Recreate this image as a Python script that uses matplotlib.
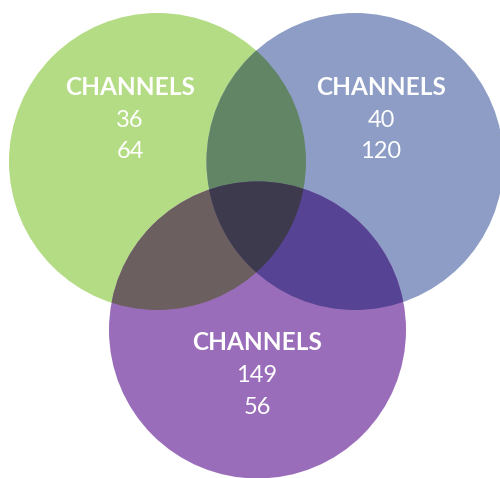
import matplotlib
matplotlib.use('Agg')
import numpy as np
import matplotlib.pyplot as plt
from matplotlib.patches import Circle, Polygon

# set labels and counts
set_names = ['CHANNELS', 'CHANNELS', 'CHANNELS']
first_counts = [36, 40, 149]
second_counts = [64, 120, 56]

# layout of the three circles (pixel space)
centers = [(157.5, 161.5), (355, 161.5), (257.5, 330)]
radius = 148.5
label_pos = [(130, 87), (381, 87), (257, 343)]

# region colours
colors = ['#b4dc84', '#8e9dc6', '#9a6dba']
pair_colors = {(0, 1): '#628665', (0, 2): '#6b5f5f', (1, 2): '#574393'}
center_color = '#3d3a4d'


def lens_polygon(c1, c2, r, n=600):
    # intersection of two circles of radius r, as polygon points
    t = np.linspace(0, 2 * np.pi, n)
    a = np.column_stack([c1[0] + r * np.cos(t), c1[1] + r * np.sin(t)])
    b = np.column_stack([c2[0] + r * np.cos(t), c2[1] + r * np.sin(t)])
    pts = np.vstack([a[np.hypot(a[:, 0] - c2[0], a[:, 1] - c2[1]) <= r],
                     b[np.hypot(b[:, 0] - c1[0], b[:, 1] - c1[1]) <= r]])
    mid = ((c1[0] + c2[0]) / 2, (c1[1] + c2[1]) / 2)
    ang = np.arctan2(pts[:, 1] - mid[1], pts[:, 0] - mid[0])
    return pts[np.argsort(ang)]


fig = plt.figure(figsize=(5, 4.78), dpi=100)
ax = fig.add_axes([0, 0, 1, 1])
ax.set_xlim(0, 500)
ax.set_ylim(478, 0)
ax.set_aspect('equal')
ax.axis('off')

# single sets
for c, col in zip(centers, colors):
    ax.add_patch(Circle(c, radius, fc=col, ec='none'))

# pairwise overlaps
for (i, j), col in pair_colors.items():
    p = Circle(centers[i], radius, fc=col, ec='none')
    ax.add_patch(p)
    p.set_clip_path(Circle(centers[j], radius, transform=ax.transData))

# triple overlap: circle 2 clipped to lens of circles 0 and 1
tri = Circle(centers[2], radius, fc=center_color, ec='none')
ax.add_patch(tri)
tri.set_clip_path(Polygon(lens_polygon(centers[0], centers[1], radius),
                          closed=True, transform=ax.transData))

font_b = dict(family='Lato', weight='bold', size=17.6, color='white')
font_r = dict(family='Lato', size=17, color='white')
for (x, y), name, a, b in zip(label_pos, set_names, first_counts, second_counts):
    ax.text(x, y, name, ha='center', va='center', **font_b)
    ax.text(x, y + 33, str(a), ha='center', va='center', **font_r)
    ax.text(x, y + 65, str(b), ha='center', va='center', **font_r)

fig.savefig('out.png', dpi=100)
